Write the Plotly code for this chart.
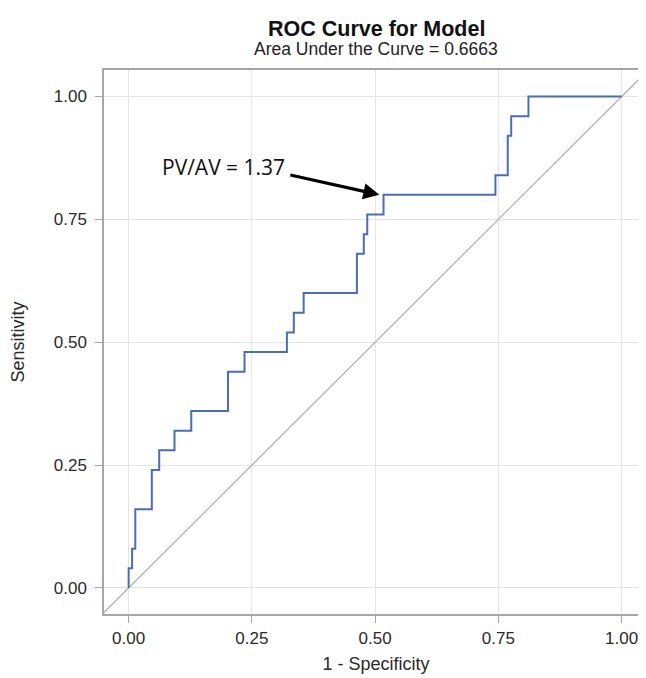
import plotly.graph_objects as go

# ROC curve data
fpr = [0, 0, 0.007, 0.0135, 0.047, 0.062, 0.093, 0.127, 0.2015, 0.235, 0.321, 0.335,
       0.355, 0.463, 0.477, 0.484, 0.517, 0.744, 0.769, 0.776, 0.811, 1.0]
tpr = [0, 0.04, 0.08, 0.16, 0.24, 0.28, 0.32, 0.36, 0.44, 0.48, 0.52, 0.56,
       0.60, 0.68, 0.72, 0.76, 0.80, 0.84, 0.92, 0.96, 1.00, 1.00]

tick_vals = [0, 0.25, 0.5, 0.75, 1.0]
tick_text = ["0.00", "0.25", "0.50", "0.75", "1.00"]

x_range = [-0.05, 1.0535]
y_range = [-0.053, 1.054]

annot_text = "PV/AV = 1.37"
annot_point = (0.5085, 0.80)
annot_tail = (0.325, 0.841)
annot_text_pos = (0.193, 0.856)

title = "ROC Curve for Model"
subtitle = "Area Under the Curve = 0.6663"

FONT = "Liberation Sans, Arial, sans-serif"

fig = go.Figure()

# chance diagonal
d_lo = min(x_range[0], y_range[0])
d_hi = max(x_range[1], y_range[1])
fig.add_trace(go.Scatter(x=[d_lo, d_hi], y=[d_lo, d_hi], mode="lines",
                         line=dict(color="#b4b4b4", width=1.3),
                         hoverinfo="skip", showlegend=False))

fig.add_trace(go.Scatter(x=fpr, y=tpr, mode="lines", line_shape="hv",
                         line=dict(color="#4a6db5", width=2),
                         showlegend=False))

axis_common = dict(
    tickvals=tick_vals, ticktext=tick_text, automargin=False,
    showgrid=True, gridcolor="#e4e4e4", gridwidth=1,
    zeroline=False, showline=True, linecolor="#a6a6a6", linewidth=1.5,
    ticks="outside", ticklen=7, tickcolor="#a6a6a6", tickwidth=1,
    tickfont=dict(family=FONT, size=17, color="#2a2a2a"),
)

fig.update_xaxes(range=x_range, mirror=True, ticklabelstandoff=1,
                 title=dict(text="1 - Specificity", standoff=10,
                            font=dict(family=FONT, size=18, color="#2a2a2a")),
                 **axis_common)
fig.update_yaxes(range=y_range, mirror=False, ticklabelstandoff=5,
                 title=dict(text="Sensitivity", standoff=26,
                            font=dict(family=FONT, size=18, color="#2a2a2a")),
                 **axis_common)

fig.add_annotation(x=annot_point[0], y=annot_point[1], ax=annot_tail[0], ay=annot_tail[1],
                   xref="x", yref="y", axref="x", ayref="y", text="",
                   showarrow=True, arrowhead=2, arrowsize=1, arrowwidth=3.2,
                   arrowcolor="#000000")
fig.add_annotation(x=annot_text_pos[0], y=annot_text_pos[1], xref="x", yref="y",
                   text=annot_text, showarrow=False,
                   font=dict(family="Open Sans, Noto Sans", size=21, color="#111111"))

fig.add_annotation(x=0.5, y=1, xref="paper", yref="paper", yanchor="middle", yshift=41,
                   text="<b>" + title + "</b>", showarrow=False,
                   font=dict(family=FONT, size=21.5, color="#111111"))
fig.add_annotation(x=0.5, y=1, xref="paper", yref="paper", yanchor="middle", yshift=21,
                   text=subtitle, showarrow=False,
                   font=dict(family=FONT, size=17.5, color="#222222"))

fig.update_layout(width=640, height=670, margin=dict(l=96, r=0, t=62, b=64),
                  paper_bgcolor="white", plot_bgcolor="white")

fig.write_html("out.html")
